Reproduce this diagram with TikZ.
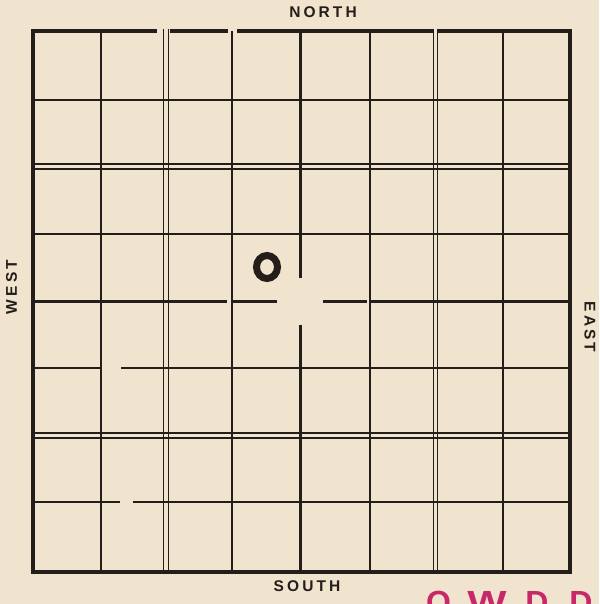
\documentclass[tikz,border=0pt]{standalone}
\usepackage{fontspec}
\setmainfont{Liberation Sans}
\definecolor{paper}{RGB}{241,228,206}
\definecolor{ink}{RGB}{35,30,26}
\definecolor{stamp}{RGB}{200,40,105}
\begin{document}
\begin{tikzpicture}[x=1pt,y=-1pt,
  gridline/.style={draw=ink,line width=1.6pt},
  centreline/.style={draw=ink,line width=3pt},
  borderline/.style={draw=ink,line width=4.5pt,line join=miter},
  dirlabel/.style={font=\fontsize{15.5}{15.5}\selectfont\bfseries\addfontfeatures{LetterSpace=20},text=ink,inner sep=0pt},
  stampletter/.style={font=\fontsize{32}{32}\selectfont\bfseries,text=stamp,inner sep=0pt,anchor=base}]

\useasboundingbox (0,0) rectangle (599,604);
\clip (0,0) rectangle (599,604);
\fill[paper] (0,0) rectangle (599,604);

% outer border
\draw[borderline] (33,31) rectangle (570,572);
% breaks in the top border
\fill[paper] (157,27) rectangle (170,36);
\fill[paper] (228,27) rectangle (237,36);
\fill[paper] (434.3,27) rectangle (436.7,36);

% thin vertical lines
\foreach \x in {101,232,370,503}
  \draw[gridline] (\x,31) -- (\x,572);
% double vertical lines
\foreach \x in {163.5,168.5,433.5,437.5}
  \draw[gridline,line width=1.4pt] (\x,29) -- (\x,572);

% thin horizontal lines
\draw[gridline] (33,100) -- (570,100);
\draw[gridline] (33,234) -- (570,234);
\draw[gridline] (33,368) -- (102,368);
\draw[gridline] (121,368) -- (570,368);
\draw[gridline] (33,502) -- (120,502);
\draw[gridline] (133,502) -- (570,502);
% double horizontal lines
\foreach \y in {164,169,433,438}
  \draw[gridline,line width=1.4pt] (33,\y) -- (570,\y);

% centre lines with the gap at the middle
\draw[centreline] (33,301) -- (227,301);
\draw[centreline] (233,301) -- (277,301);
\draw[centreline] (323,301) -- (367,301);
\draw[centreline] (371,301) -- (570,301);
\draw[centreline] (300,31) -- (300,278);
\draw[centreline] (300,325) -- (300,572);

% hand-drawn ring
\draw[ink,line width=7pt] (267,267) ellipse [x radius=10.5pt, y radius=11.5pt];

% compass labels
\node[dirlabel] (north) at (323,12) {NORTH};
\node[dirlabel] (south) at (307,586) {SOUTH};
\node[dirlabel,rotate=90] (west) at (11.5,287) {WEST};
\node[dirlabel,rotate=-90] (east) at (590,327) {EAST};

% stamp letters, cut by the lower edge
\node[stampletter] (s1) at (438.5,613) {O};
\node[stampletter,xscale=1.3] (s2) at (487,613) {W};
\node[stampletter] (s3) at (537,613) {D};
\node[stampletter] (s4) at (581,613) {D};
\end{tikzpicture}
\end{document}
